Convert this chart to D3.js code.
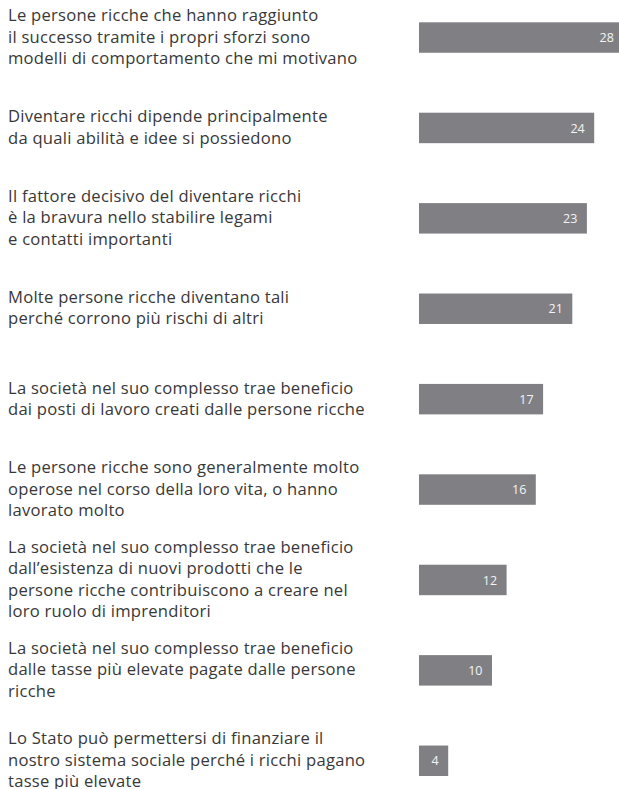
<!DOCTYPE html>
<html>
<head>
<meta charset="utf-8">
<script src="https://cdn.jsdelivr.net/npm/d3@7"></script>
<style>
  html, body { margin: 0; padding: 0; background: #ffffff; }
  svg { display: block; }
</style>
</head>
<body>
<svg id="chart" width="619" height="789"></svg>
<script>
// Statements (each as its wrapped lines) and the share agreeing, in %
const statements = [
  ["Le persone ricche che hanno raggiunto", "il successo tramite i propri sforzi sono", "modelli di comportamento che mi motivano"],
  ["Diventare ricchi dipende principalmente", "da quali abilità e idee si possiedono"],
  ["Il fattore decisivo del diventare ricchi", "è la bravura nello stabilire legami", "e contatti importanti"],
  ["Molte persone ricche diventano tali", "perché corrono più rischi di altri"],
  ["La società nel suo complesso trae beneficio", "dai posti di lavoro creati dalle persone ricche"],
  ["Le persone ricche sono generalmente molto", "operose nel corso della loro vita, o hanno", "lavorato molto"],
  ["La società nel suo complesso trae beneficio", "dall’esistenza di nuovi prodotti che le", "persone ricche contribuiscono a creare nel", "loro ruolo di imprenditori"],
  ["La società nel suo complesso trae beneficio", "dalle tasse più elevate pagate dalle persone", "ricche"],
  ["Lo Stato può permettersi di finanziare il", "nostro sistema sociale perché i ricchi pagano", "tasse più elevate"]
];
const values = [28, 24, 23, 21, 17, 16, 12, 10, 4];

const svg = d3.select("#chart");
const barX0 = 419;
const lineGap = 21.3;

const y = d3.scaleBand()
  .domain(d3.range(values.length))
  .range([22.3, 776])
  .paddingInner(0.663)
  .paddingOuter(0);

const x = d3.scaleLinear()
  .domain([0, 30])
  .range([0, 219]);

const rows = svg.selectAll("g.row")
  .data(values.map((v, i) => ({ v, lines: statements[i], i })))
  .join("g")
  .attr("class", "row");

rows.append("rect")
  .attr("x", barX0)
  .attr("y", d => y(d.i))
  .attr("width", d => x(d.v))
  .attr("height", y.bandwidth())
  .attr("fill", "#808084");

rows.append("text")
  .attr("x", d => barX0 + x(d.v) - 9.5)
  .attr("y", d => y(d.i) + y.bandwidth() / 2 + 4.6)
  .attr("text-anchor", "end")
  .attr("font-family", "'Open Sans', sans-serif")
  .attr("font-size", 12.5)
  .attr("fill", "#f4f4f4")
  .text(d => d.v);

rows.append("text")
  .attr("font-family", "'Open Sans', sans-serif")
  .attr("font-size", 16.6)
  .attr("letter-spacing", 0.25)
  .attr("fill", "#383838")
  .each(function(d) {
    const cy = y(d.i) + y.bandwidth() / 2;
    const n = d.lines.length;
    const first = cy - (n - 1) * lineGap / 2 + 5;
    d3.select(this).selectAll("tspan")
      .data(d.lines)
      .join("tspan")
      .attr("x", 8)
      .attr("y", (l, k) => first + k * lineGap)
      .text(l => l);
  });
</script>
</body>
</html>
